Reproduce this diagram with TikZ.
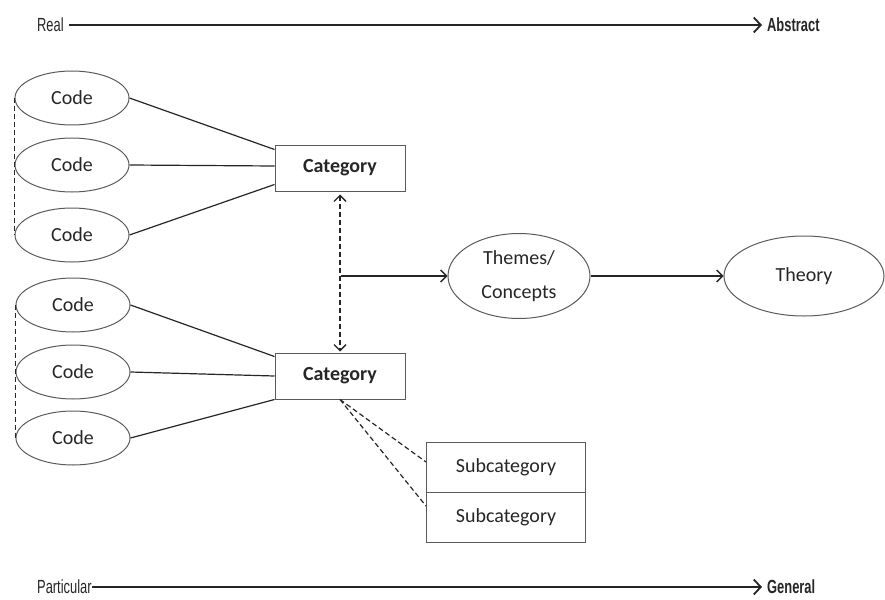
\documentclass[tikz,border=0pt]{standalone}
\usepackage{fontspec}
\setmainfont{Carlito}
\newfontfamily\arialfont{Liberation Sans}
\usetikzlibrary{shapes.geometric,arrows.meta}
\definecolor{ink}{HTML}{262626}
\definecolor{edge}{HTML}{5A5A5A}
\tikzset{
  codeell/.style={ellipse,draw=edge,line width=1pt,minimum width=114pt,minimum height=54pt,inner sep=0pt,text=ink,font=\fontsize{20}{22}\selectfont},
  catbox/.style={rectangle,draw=edge,line width=1pt,minimum width=130pt,minimum height=46pt,inner sep=0pt,text=ink,font=\bfseries\fontsize{20}{22}\selectfont},
  subbox/.style={rectangle,draw=edge,line width=1pt,minimum width=159pt,minimum height=50pt,inner sep=0pt,text=ink,font=\fontsize{20}{22}\selectfont},
  bigell/.style={ellipse,draw=edge,line width=1pt,inner sep=0pt,text=ink,align=center,font=\fontsize{20}{34}\selectfont},
  axislabel/.style={text=ink,inner sep=0pt,xscale=0.68,font=\arialfont\fontsize{19}{21}\selectfont},
  axisbold/.style={axislabel,font=\arialfont\bfseries\fontsize{19}{21}\selectfont},
  axisarrow/.style={draw=ink,line width=1.9pt,-{Straight Barb[length=7pt,width=15pt,line width=1.8pt]}},
  link/.style={draw=ink,line width=1.2pt},
  dlink/.style={draw=ink,line width=1.2pt,dashed,dash pattern=on 5pt off 3pt},
  arr/.style={draw=ink,line width=1.4pt,-{Straight Barb[length=6pt,width=12pt,line width=1.4pt]}},
}
\begin{document}
\begin{tikzpicture}[x=1pt,y=-1pt]
\useasboundingbox (0,0) rectangle (885,599);
% top axis
\node[axislabel,anchor=west] (real) at (37,25) {Real};
\node[axisbold,anchor=west] (abstract) at (767,25) {Abstract};
\draw[axisarrow] ([xshift=5pt]real.east) -- ([xshift=-5pt]abstract.west);
% codes group 1
\node[codeell] (c1) at (72,98) {Code};
\node[codeell] (c2) at (72,165) {Code};
\node[codeell] (c3) at (72,235) {Code};
\node[catbox] (cat1) at (340,168) {Category};
\draw[link] (c1.east) -- ([yshift=-5pt]cat1.north west);
\draw[link] (c2.east) -- ([yshift=2pt]cat1.west);
\draw[link] (c3.east) -- ([yshift=7pt]cat1.south west);
\draw[dlink] (c1.west) -- (c3.west);
% codes group 2
\node[codeell] (c4) at (73,305) {Code};
\node[codeell] (c5) at (73,372) {Code};
\node[codeell] (c6) at (73,438) {Code};
\node[catbox] (cat2) at (340,376) {Category};
\draw[link] (c4.east) -- ([yshift=-4pt]cat2.north west);
\draw[link] (c5.east) -- (cat2.west);
\draw[link] (c6.east) -- (cat2.south west);
\draw[dlink] (c4.west) -- (c6.west);
% vertical double arrow
\draw[dlink,{Straight Barb[length=6pt,width=12pt,line width=1.3pt]}-{Straight Barb[length=6pt,width=12pt,line width=1.3pt]}] ([yshift=-3pt]cat1.south) -- ([yshift=1pt]cat2.north);
\coordinate (j) at (341,276);
% themes and theory
\node[bigell,minimum width=142pt,minimum height=85pt] (themes) at (519,276) {Themes/\\Concepts};
\node[bigell,minimum width=160pt,minimum height=80pt] (theory) at (804,276) {Theory};
\draw[arr] (j) -- (themes.west);
\draw[arr] (themes.east) -- (theory.west);
% subcategories
\node[subbox] (sub1) at (506,467) {Subcategory};
\node[subbox] (sub2) at (506,517) {Subcategory};
\draw[dlink] (cat2.south) -- ([yshift=5pt]sub1.west);
\draw[dlink] (cat2.south) -- ([yshift=11pt]sub2.west);
% bottom axis
\node[axislabel,anchor=west] (particular) at (37,587) {Particular};
\node[axisbold,anchor=west] (general) at (767,587) {General};
\draw[axisarrow] (particular.east) -- ([xshift=-5pt]general.west);
\end{tikzpicture}
\end{document}
